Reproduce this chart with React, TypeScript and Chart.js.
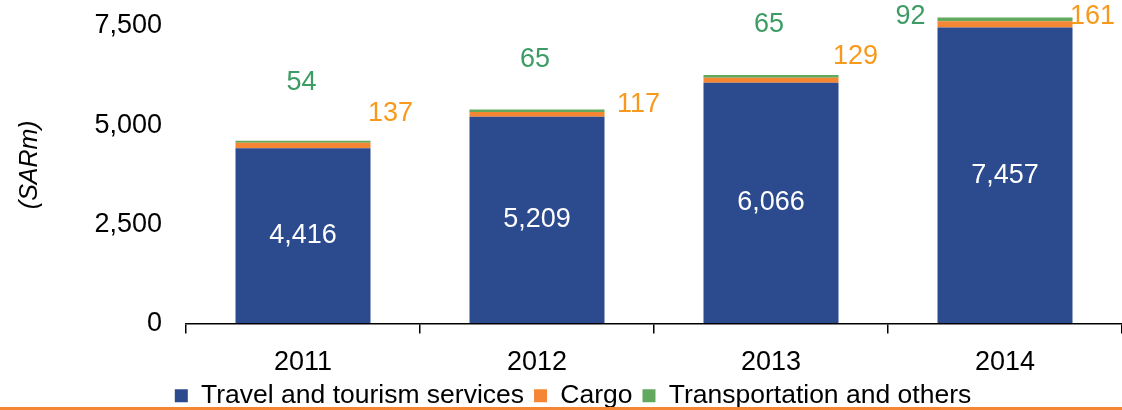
import React, { useEffect, useRef } from "react";
import { Chart, registerables } from "chart.js";

Chart.register(...registerables);

const categories = ["2011", "2012", "2013", "2014"];
const travelValues = [4416, 5209, 6066, 7457];
const cargoValues = [137, 117, 129, 161];
const transportValues = [54, 65, 65, 92];
const yTickValues = [0, 2500, 5000, 7500];
const seriesNames = ["Travel and tourism services", "Cargo", "Transportation and others"];

// label placement offsets (px): green relative to bar centre / stack top,
// orange relative to bar right edge / stack top
const greenLabelOffsets = [[-1.5, -58.5], [-2, -49.5], [-2, -50.5], [-94.5, -0.5]];
const orangeLabelOffsets = [[20, -27.5], [34, -5], [17, -18.5], [20, -1]];

const FONT = "'Liberation Sans', Arial, sans-serif";
const NUM_SIZE = 27;
const BLUE = "#2C4A8E";
const ORANGE = "#F58634";
const GREEN = "#62A85D";
const ORANGE_TEXT = "#F7991C";
const GREEN_TEXT = "#3D9C66";

const fmt = (v: number) => v.toLocaleString("en-US");

const labelPlugin = {
  id: "customLabels",
  afterDatasetsDraw(chart: any) {
    const ctx = chart.ctx;
    const m0 = chart.getDatasetMeta(0);
    const m2 = chart.getDatasetMeta(2);
    ctx.save();
    ctx.font = `${NUM_SIZE}px ${FONT}`;
    ctx.textAlign = "center";
    ctx.textBaseline = "middle";
    for (let i = 0; i < categories.length; i++) {
      const b = m0.data[i];
      ctx.fillStyle = "#FFFFFF";
      ctx.fillText(fmt(travelValues[i]), b.x, (b.y + b.base) / 2);
      const top = m2.data[i].y;
      const right = b.x + b.width / 2;
      ctx.fillStyle = GREEN_TEXT;
      ctx.fillText(fmt(transportValues[i]), b.x + greenLabelOffsets[i][0], top + greenLabelOffsets[i][1]);
      ctx.fillStyle = ORANGE_TEXT;
      ctx.fillText(fmt(cargoValues[i]), right + orangeLabelOffsets[i][0], top + orangeLabelOffsets[i][1]);
    }
    ctx.restore();
  },
  afterDraw(chart: any) {
    const ctx = chart.ctx;
    ctx.save();
    ctx.fillStyle = ORANGE;
    ctx.fillRect(0, chart.height - 3, chart.width, 3);
    ctx.restore();
  },
};

export default function App() {
  const ref = useRef<HTMLCanvasElement | null>(null);
  useEffect(() => {
    document.body.style.margin = "0";
    const canvas = ref.current!;
    const chart = new Chart(canvas, {
      type: "bar",
      data: {
        labels: categories,
        datasets: [
          { label: seriesNames[0], data: travelValues, backgroundColor: BLUE },
          { label: seriesNames[1], data: cargoValues, backgroundColor: ORANGE },
          { label: seriesNames[2], data: transportValues, backgroundColor: GREEN },
        ],
      },
      options: {
        animation: false,
        responsive: true,
        maintainAspectRatio: false,
        layout: { padding: { top: 6, right: 0, bottom: -9, left: 24 } },
        datasets: { bar: { barPercentage: 0.577, categoryPercentage: 1 } },
        plugins: {
          tooltip: { enabled: false },
          legend: {
            position: "bottom",
            labels: {
              font: { family: FONT, size: 26.5 },
              color: "#000",
              boxWidth: 13,
              boxHeight: 13,
              padding: 10,
            },
          },
        },
        scales: {
          x: {
            stacked: true,
            offset: true,
            afterFit: (scale: any) => {
              scale.height = 49;
            },
            grid: { display: true, offset: true, drawOnChartArea: false, drawTicks: true, tickLength: 10, color: "#000", lineWidth: 1.5 },
            border: { display: true, color: "#000", width: 1.5 },
            ticks: { font: { family: FONT, size: NUM_SIZE, lineHeight: 0.7 }, color: "#000", padding: 20 },
          },
          y: {
            stacked: true,
            min: 0,
            max: 8000,
            afterBuildTicks: (scale: any) => {
              scale.ticks = yTickValues.map((v) => ({ value: v }));
            },
            afterFit: (scale: any) => {
              scale.width = 162;
            },
            grid: { display: true, drawOnChartArea: false, drawTicks: true, tickLength: 24, color: "rgba(0,0,0,0)" },
            border: { display: false },
            ticks: {
              font: { family: FONT, size: NUM_SIZE, lineHeight: 0.4 },
              color: "#000",
              padding: 0,
              callback: (v: any) => fmt(Number(v)),
            },
            title: {
              display: true,
              text: "(SARm)",
              font: { family: FONT, size: 25, style: "italic" },
              color: "#000",
              padding: { top: -9, bottom: 0 },
            },
          },
        },
      },
      plugins: [labelPlugin],
    });
    return () => chart.destroy();
  }, []);
  return (
    <div style={{ width: "1122px", height: "410px", position: "relative" }}>
      <canvas ref={ref} />
    </div>
  );
}
